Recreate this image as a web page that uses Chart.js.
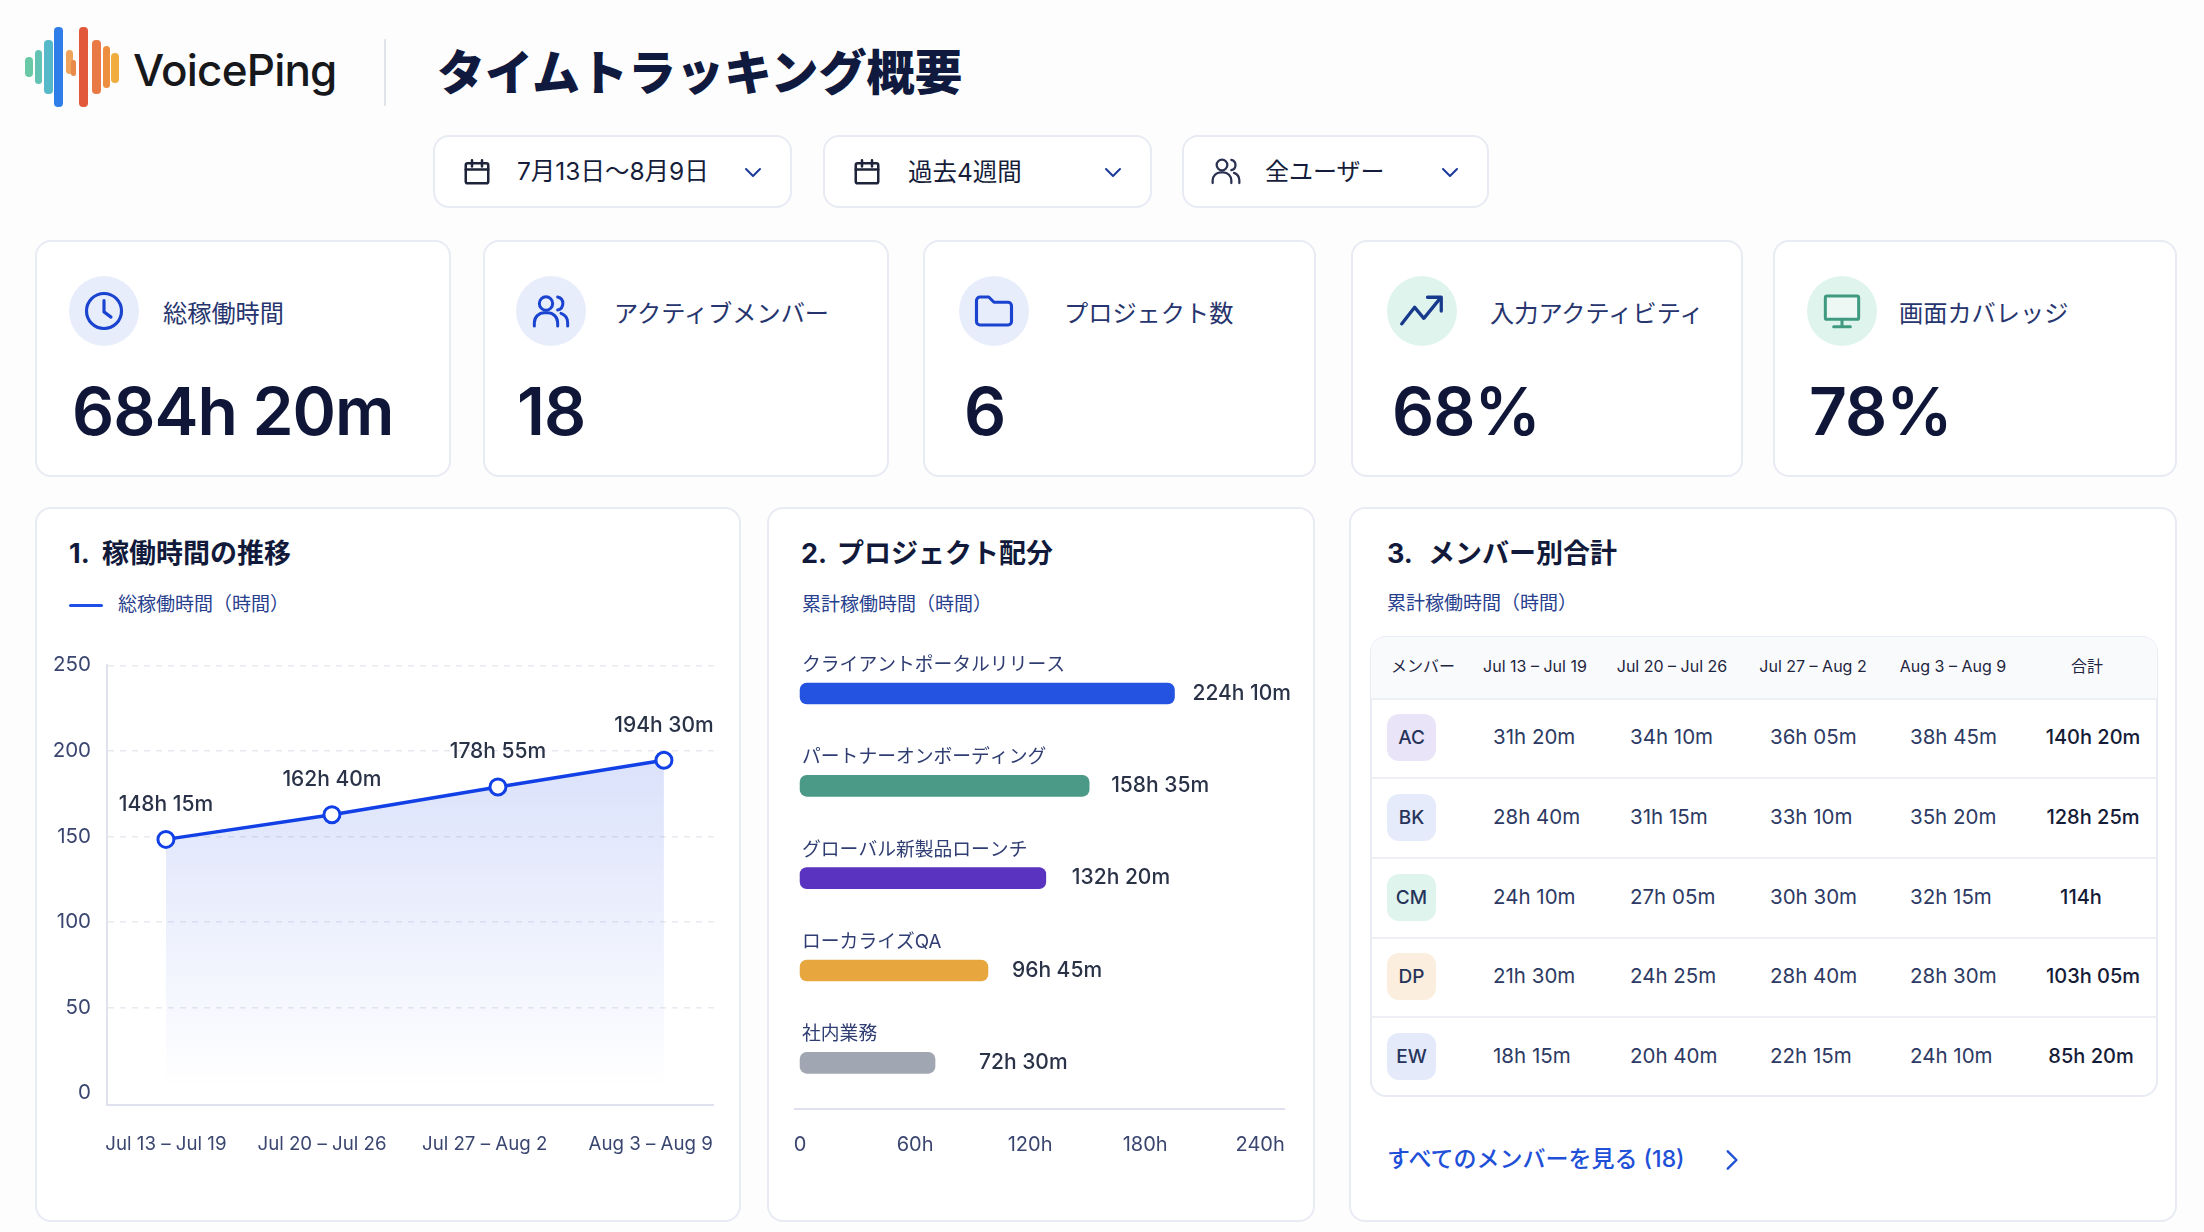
<!DOCTYPE html>
<html lang="ja">
<head>
<meta charset="utf-8">
<title>タイムトラッキング概要</title>
<script src="https://cdn.jsdelivr.net/npm/chart.js@4/dist/chart.umd.min.js"></script>
<style>
    html, body { margin: 0; padding: 0; background: #fdfdfe; }
    body { position: relative; width: 2204px; height: 1232px; overflow: hidden; font-family: Inter, "Noto Sans CJK JP", sans-serif; color: #121a3c; }
    .box { position: absolute; box-sizing: border-box; background: #fff; border: 2px solid #e9ebf4; border-radius: 16px; }
    .txt { position: absolute; white-space: pre; transform: translateY(-50%); line-height: 1.2; }
    .ico { position: absolute; transform: translate(-50%, -50%); fill: none; stroke-width: 2; stroke-linecap: round; stroke-linejoin: round; }
    .dot { position: absolute; border-radius: 50%; transform: translate(-50%, -50%); }
    canvas { position: absolute; }
</style>
</head>
<body>
<script>
// line chart
const weeks = ['Jul 13 – Jul 19', 'Jul 20 – Jul 26', 'Jul 27 – Aug 2', 'Aug 3 – Aug 9'];
const weekHours = [148.25, 162.67, 178.92, 194.5];
const weekLabels = ['148h 15m', '162h 40m', '178h 55m', '194h 30m'];
const hourTicks = [0, 50, 100, 150, 200, 250];
// the week labels sit a little left of their points in the picture
const weekTickSpots = [0, 0.94, 1.92, 2.92];

// bar chart: lengths are read against the axis, the printed totals are kept apart
// because the first bar in the picture is shorter than its label says
const projects = ['クライアントポータルリリース', 'パートナーオンボーディング', 'グローバル新製品ローンチ', 'ローカライズQA', '社内業務'];
const projectHours = [195.3, 150.8, 128.2, 98, 70.4];
const projectLabels = ['224h 10m', '158h 35m', '132h 20m', '96h 45m', '72h 30m'];
const projectColors = ['#2453e2', '#4b9a87', '#5a33c0', '#e8a63e', '#a1a6b3'];
const projectTicks = [0, 60, 120, 180, 240];
const projectLabelGaps = [18, 22, 26, 24, 44];

// member table
const members = ['AC', 'BK', 'CM', 'DP', 'EW'];
const memberColors = ['#e9e4f8', '#e5ebfb', '#e0f4ee', '#fbeede', '#e5eafa'];
const memberWeek1 = ['31h 20m', '28h 40m', '24h 10m', '21h 30m', '18h 15m'];
const memberWeek2 = ['34h 10m', '31h 15m', '27h 05m', '24h 25m', '20h 40m'];
const memberWeek3 = ['36h 05m', '33h 10m', '30h 30m', '28h 40m', '22h 15m'];
const memberWeek4 = ['38h 45m', '35h 20m', '32h 15m', '28h 30m', '24h 10m'];
const memberTotals = ['140h 20m', '128h 25m', '114h', '103h 05m', '85h 20m'];

// kpi cards
const kpiNames = ['総稼働時間', 'アクティブメンバー', 'プロジェクト数', '入力アクティビティ', '画面カバレッジ'];
const kpiValues = ['684h 20m', '18', '6', '68%', '78%'];

const fontFamily = 'Inter, "Noto Sans CJK JP", sans-serif';
const tickColor = '#3a4670';
const valueColor = '#2a3247';

function addBox(x, y, w, h, extra) {
    let el = document.createElement('div');
    el.className = 'box';
    el.style.cssText = 'left:' + x + 'px;top:' + y + 'px;width:' + w + 'px;height:' + h + 'px;' + (extra || '');
    document.body.appendChild(el);
    return el;
}

function addText(x, y, text, css) {
    let el = document.createElement('div');
    el.className = 'txt';
    el.textContent = text;
    el.style.cssText = 'left:' + x + 'px;top:' + y + 'px;' + css;
    document.body.appendChild(el);
    return el;
}

function addIcon(x, y, size, color, paths, width) {
    let wrap = document.createElement('div');
    wrap.innerHTML = '<svg class="ico" viewBox="0 0 24 24" width="' + size + '" height="' + size + '" stroke="' + color + '" style="left:' + x + 'px;top:' + y + 'px;stroke-width:' + (width || 2) + '">' + paths + '</svg>';
    document.body.appendChild(wrap.firstChild);
}

function addDot(x, y, r, color) {
    let el = document.createElement('div');
    el.className = 'dot';
    el.style.cssText = 'left:' + x + 'px;top:' + y + 'px;width:' + (2 * r) + 'px;height:' + (2 * r) + 'px;background:' + color;
    document.body.appendChild(el);
}

const calendarIcon = '<rect x="3" y="5" width="18" height="16" rx="1.5"/><path d="M3 10h18M8 2.5v5M16 2.5v5"/>';
const chevronIcon = '<path d="M5 9l7 7 7-7"/>';
const usersIcon = '<circle cx="9" cy="7.5" r="4"/><path d="M2 21v-2a6 6 0 0 1 6-6h2a6 6 0 0 1 6 6v2M16 3.6a4 4 0 0 1 0 7.8M22 21v-2a6 6 0 0 0-4-5.6"/>';
const clockIcon = '<circle cx="12" cy="12" r="10"/><path d="M12 6v6.5l4 3"/>';
const folderIcon = '<path d="M2 6a2 2 0 0 1 2-2h5l3 3h8a2 2 0 0 1 2 2v9a2 2 0 0 1-2 2H4a2 2 0 0 1-2-2z"/>';
const trendIcon = '<path d="M1 19l7-9 5 6 9-11M15 4.5h7.5V12"/>';
const monitorIcon = '<rect x="2" y="3" width="20" height="14" rx="1" fill="#edf8f4"/><path d="M12 17v4M7 21.5h10"/>';

// header
let logoBars = [[25, 57, 8, 20, '#69c9a6'], [35, 50, 7, 34, '#62c2b4'], [44, 40, 9, 54, '#56b9c9'], [54, 27, 9, 80, '#2f7de8'], [66, 50, 7, 24, '#f0a35a'], [71, 60, 5, 16, '#e98a4a'], [79, 27, 9, 80, '#e2583a'], [92, 40, 9, 54, '#ea7a45'], [103, 46, 7, 42, '#ee8f3f'], [111, 53, 8, 30, '#f0ac3d']];
logoBars.forEach(b => {
    addBox(b[0], b[1], b[2], b[3], 'border:0;border-radius:4px;background:' + b[4]);
});
addText(133, 70, 'VoicePing', 'font-size:44px;font-weight:500;color:#17181c;letter-spacing:-0.8px');
addBox(384, 39, 2, 67, 'border:0;border-radius:0;background:#e2e4ec');
addText(437, 73, 'タイムトラッキング概要', 'font-size:48px;font-weight:900;color:#101a3e');

// filter boxes
addBox(433, 135, 359, 73);
addIcon(477, 172, 30, '#1d2338', calendarIcon);
addText(517, 172, '7月13日\u301C8月9日', 'font-size:24.5px;color:#161d3a');
addIcon(753, 172, 24, '#1c3a9c', chevronIcon);
addBox(823, 135, 329, 73);
addIcon(867, 172, 30, '#1d2338', calendarIcon);
addText(908, 173, '過去4週間', 'font-size:24.5px;color:#161d3a');
addIcon(1113, 172, 24, '#1c3a9c', chevronIcon);
addBox(1182, 135, 307, 73);
addIcon(1226, 171, 32, '#2a3150', usersIcon, 1.7);
addText(1265, 172, '全ユーザー', 'font-size:24px;color:#161d3a');
addIcon(1450, 172, 24, '#1c3a9c', chevronIcon);

// kpi cards
let kpiLayout = [
    { x: 35, w: 416, icon: 104, label: 163, value: 72, bg: '#e8edfb', stroke: '#1a44d0', glyph: clockIcon, size: 42 },
    { x: 483, w: 406, icon: 551, label: 614, value: 517, bg: '#e8edfb', stroke: '#1a44d0', glyph: usersIcon, size: 40 },
    { x: 923, w: 393, icon: 994, label: 1064, value: 964, bg: '#e8edfb', stroke: '#1a44d0', glyph: folderIcon, size: 42 },
    { x: 1351, w: 392, icon: 1422, label: 1490, value: 1392, bg: '#e0f4ee', stroke: '#173a8c', glyph: trendIcon, size: 44 },
    { x: 1773, w: 404, icon: 1842, label: 1899, value: 1809, bg: '#e0f4ee', stroke: '#3f9a80', glyph: monitorIcon, size: 40 }
];
kpiLayout.forEach((k, i) => {
    addBox(k.x, 240, k.w, 237);
    addDot(k.icon, 311, 35, k.bg);
    addIcon(k.icon, 311, k.size, k.stroke, k.glyph, 1.8);
    addText(k.label, 314, kpiNames[i], 'font-size:24.2px;color:#27356e');
    addText(k.value, 412, kpiValues[i], 'font-size:66px;font-weight:600;color:#0f1638;letter-spacing:-1px');
});

// panels
addBox(35, 507, 706, 715);
addBox(767, 507, 548, 715);
addBox(1349, 507, 828, 715);

const titleCss = 'font-size:27px;font-weight:700;color:#111a3a';
const subCss = 'font-size:19px;color:#27408e';
const hoursNote = '\uFF08時間\uFF09';
addText(69, 554, '1.', titleCss);
addText(102, 554, '稼働時間の推移', titleCss);
addBox(69, 604, 34, 3, 'border:0;border-radius:2px;background:#1f4fe6');
addText(118, 605, '総稼働時間' + hoursNote, subCss);
addText(801, 554, '2.', titleCss);
addText(837, 554, 'プロジェクト配分', titleCss);
addText(802, 605, '累計稼働時間' + hoursNote, subCss);
addText(1387, 554, '3.', titleCss);
addText(1428, 554, 'メンバー別合計', titleCss);
addText(1387, 604, '累計稼働時間' + hoursNote, subCss);

// member table
addBox(1370, 636, 788, 461, 'overflow:hidden');
addBox(1371, 637, 786, 61, 'border:0;border-radius:14px 14px 0 0;background:#f9fafc');
[698, 777, 857, 937, 1016].forEach(y => {
    addBox(1371, y, 786, 2, 'border:0;border-radius:0;background:#eef0f6');
});
const headCss = 'font-size:16px;color:#1e2540;transform:translate(-50%,-50%)';
addText(1423, 667, 'メンバー', headCss);
weeks.forEach((w, i) => {
    addText([1535, 1672, 1813, 1953][i], 667, w, headCss);
});
addText(2087, 667, '合計', headCss);

const rowY = [737, 817, 897, 976, 1056];
const totalX = [2093, 2093, 2081, 2093, 2091];
const cellCss = 'font-size:20.5px;color:#2d3a63';
members.forEach((m, i) => {
    addBox(1387, rowY[i] - 23, 49, 47, 'border:0;border-radius:12px;background:' + memberColors[i]);
    addText(1411.5, rowY[i] + 1, m, 'font-size:19px;font-weight:500;color:#27345a;transform:translate(-50%,-50%)');
    addText(1493, rowY[i], memberWeek1[i], cellCss);
    addText(1630, rowY[i], memberWeek2[i], cellCss);
    addText(1770, rowY[i], memberWeek3[i], cellCss);
    addText(1910, rowY[i], memberWeek4[i], cellCss);
    addText(totalX[i], rowY[i], memberTotals[i], 'font-size:20px;font-weight:500;color:#151c38;transform:translate(-50%,-50%)');
});
addText(1387, 1160, 'すべてのメンバーを見る (18)', 'font-size:23px;font-weight:500;color:#1e50d8');
addIcon(1731, 1160, 26, '#1e50d8', '<path d="M9 4l8 8-8 8"/>', 2.2);

function addCanvas(x, y, w, h) {
    let canvas = document.createElement('canvas');
    canvas.style.left = x + 'px';
    canvas.style.top = y + 'px';
    canvas.style.width = w + 'px';
    canvas.style.height = h + 'px';
    canvas.width = w;
    canvas.height = h;
    document.body.appendChild(canvas);
    return canvas.getContext('2d');
}

// text over the points of the line
let lineValuePlugin = {
    id: 'lineValues',
    afterDatasetsDraw(chart) {
        let ctx = chart.ctx;
        ctx.save();
        ctx.font = '500 21px ' + fontFamily;
        ctx.fillStyle = valueColor;
        ctx.textAlign = 'center';
        ctx.textBaseline = 'middle';
        chart.getDatasetMeta(0).data.forEach((pt, i) => {
            ctx.fillText(weekLabels[i], pt.x, pt.y - 35);
        });
        ctx.restore();
    }
};

let lineCtx = addCanvas(35, 637, 700, 543);
let fillGradient = lineCtx.createLinearGradient(0, 120, 0, 450);
fillGradient.addColorStop(0, 'rgba(50, 90, 230, 0.18)');
fillGradient.addColorStop(1, 'rgba(50, 90, 230, 0)');

new Chart(lineCtx, {
    type: 'line',
    data: {
        datasets: [{
            data: weekHours.map((v, i) => ({ x: i, y: v })),
            borderColor: '#1140e6',
            borderWidth: 3.5,
            tension: 0,
            fill: 'origin',
            backgroundColor: fillGradient,
            pointRadius: 8,
            pointBorderWidth: 3,
            pointBackgroundColor: '#fff',
            pointBorderColor: '#1140e6'
        }]
    },
    options: {
        responsive: false,
        animation: false,
        layout: { autoPadding: false, padding: { top: 23, right: 21 } },
        plugins: { legend: { display: false }, tooltip: { enabled: false } },
        scales: {
            x: {
                type: 'linear',
                min: -0.355,
                max: 3.301,
                afterBuildTicks: scale => { scale.ticks = weekTickSpots.map(v => ({ value: v })); },
                afterFit: scale => { scale.height = 75; },
                grid: { display: false },
                border: { color: '#dfe2ee', width: 2 },
                ticks: {
                    autoSkip: false,
                    maxRotation: 0,
                    padding: 20,
                    color: tickColor,
                    font: { family: fontFamily, size: 18.7 },
                    callback: (value, index) => weeks[index]
                }
            },
            y: {
                min: -7,
                max: 250,
                afterBuildTicks: scale => { scale.ticks = hourTicks.map(v => ({ value: v })); },
                afterFit: scale => { scale.width = 72; },
                grid: {
                    drawTicks: false,
                    color: ctx => ctx.tick && ctx.tick.value === 0 ? 'transparent' : '#e8eaf2',
                    lineWidth: 1.5
                },
                border: { color: '#dfe2ee', width: 2, dash: [6, 6] },
                ticks: {
                    padding: 16,
                    color: tickColor,
                    font: { family: fontFamily, size: 20.5 }
                }
            }
        }
    },
    plugins: [lineValuePlugin]
});

// project names over the bars, totals after them
let barTextPlugin = {
    id: 'barTexts',
    afterDatasetsDraw(chart) {
        let ctx = chart.ctx;
        ctx.save();
        ctx.textBaseline = 'middle';
        chart.getDatasetMeta(0).data.forEach((bar, i) => {
            ctx.font = '18.8px ' + fontFamily;
            ctx.fillStyle = '#2f3d73';
            ctx.textAlign = 'left';
            ctx.fillText(projects[i], chart.scales.x.getPixelForValue(0) + 2, bar.y - 28);
            ctx.font = '500 21px ' + fontFamily;
            ctx.fillStyle = valueColor;
            ctx.fillText(projectLabels[i], bar.x + projectLabelGaps[i], bar.y);
        });
        ctx.restore();
    }
};

new Chart(addCanvas(767, 620, 540, 580), {
    type: 'bar',
    data: {
        labels: projects,
        datasets: [{
            data: projectHours,
            backgroundColor: projectColors,
            barThickness: 21,
            borderRadius: 7,
            borderSkipped: false
        }]
    },
    options: {
        indexAxis: 'y',
        responsive: false,
        animation: false,
        layout: { autoPadding: false, padding: { left: 27.5, right: 22.5, top: 27.3 } },
        plugins: { legend: { display: false }, tooltip: { enabled: false } },
        scales: {
            y: { display: false },
            x: {
                min: -2.9,
                max: 252.7,
                afterBuildTicks: scale => { scale.ticks = projectTicks.map(v => ({ value: v })); },
                afterFit: scale => { scale.height = 91; },
                grid: { display: false },
                border: { color: '#dfe2ee', width: 2 },
                ticks: {
                    autoSkip: false,
                    maxRotation: 0,
                    padding: 16,
                    color: tickColor,
                    font: { family: fontFamily, size: 20 },
                    callback: value => value === 0 ? '0' : value + 'h'
                }
            }
        }
    },
    plugins: [barTextPlugin]
});
</script>
</body>
</html>
